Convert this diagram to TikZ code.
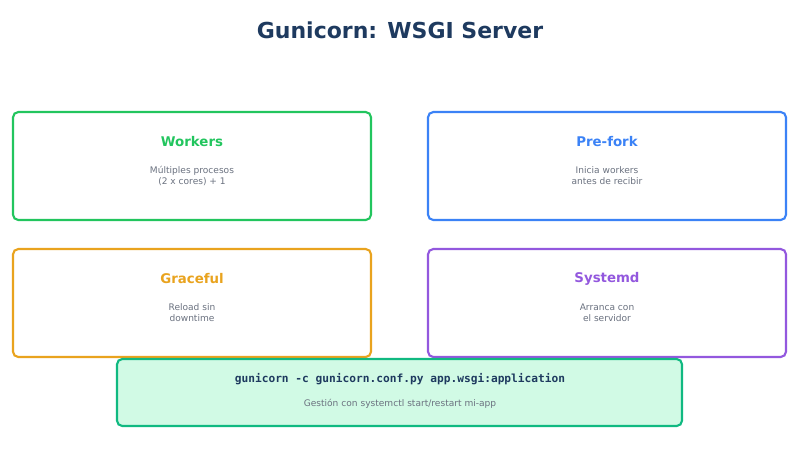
\documentclass[tikz,border=0pt]{standalone}
\usepackage{fontspec}
\setmainfont{DejaVu Sans}
\setmonofont{DejaVu Sans Mono}
\definecolor{ttl}{HTML}{1E3A5F}
\definecolor{cgreen}{HTML}{22C55E}
\definecolor{cblue}{HTML}{3B82F6}
\definecolor{corange}{HTML}{E9A31E}
\definecolor{cpurple}{HTML}{9358DE}
\definecolor{cgray}{HTML}{6B7280}
\definecolor{bfill}{HTML}{D1FAE5}
\definecolor{bdraw}{HTML}{10B981}
\begin{document}
\begin{tikzpicture}[x=0.75pt,y=-0.75pt,
  card/.style={draw=#1,line width=1.6pt,rounded corners=4pt,fill=white},
  head/.style={text=#1,font=\bfseries\fontsize{10}{12}\selectfont},
  sub/.style={text=cgray,font=\fontsize{6.8}{8.2}\selectfont,align=center}]
\useasboundingbox (0,0) rectangle (800,450);
\node[text=ttl,font=\bfseries\fontsize{16.5}{20}\selectfont] (title) at (400,30) {Gunicorn: WSGI Server};
\draw[card=cgreen] (13,112) rectangle (371,220);
\node[head=cgreen] (h1) at (192,142) {Workers};
\node[sub] (s1) at (192,176) {Múltiples procesos\\(2 x cores) + 1};
\draw[card=cblue] (428,112) rectangle (786,220);
\node[head=cblue] (h2) at (607,142) {Pre-fork};
\node[sub] (s2) at (607,176) {Inicia workers\\antes de recibir};
\draw[card=corange] (13,249) rectangle (371,357);
\node[head=corange] (h3) at (192,279) {Graceful};
\node[sub] (s3) at (192,313) {Reload sin\\downtime};
\draw[card=cpurple] (428,249) rectangle (786,357);
\node[head=cpurple] (h4) at (607,279) {Systemd};
\node[sub] (s4) at (607,313) {Arranca con\\el servidor};
\draw[draw=bdraw,fill=bfill,line width=1.6pt,rounded corners=4pt] (117,359) rectangle (682,426);
\node[text=ttl,font=\ttfamily\bfseries\fontsize{8.4}{10}\selectfont] (cmd) at (400,379) {gunicorn -c gunicorn.conf.py app.wsgi:application};
\node[sub] (g) at (400,404) {Gestión con systemctl start/restart mi-app};
\end{tikzpicture}
\end{document}
